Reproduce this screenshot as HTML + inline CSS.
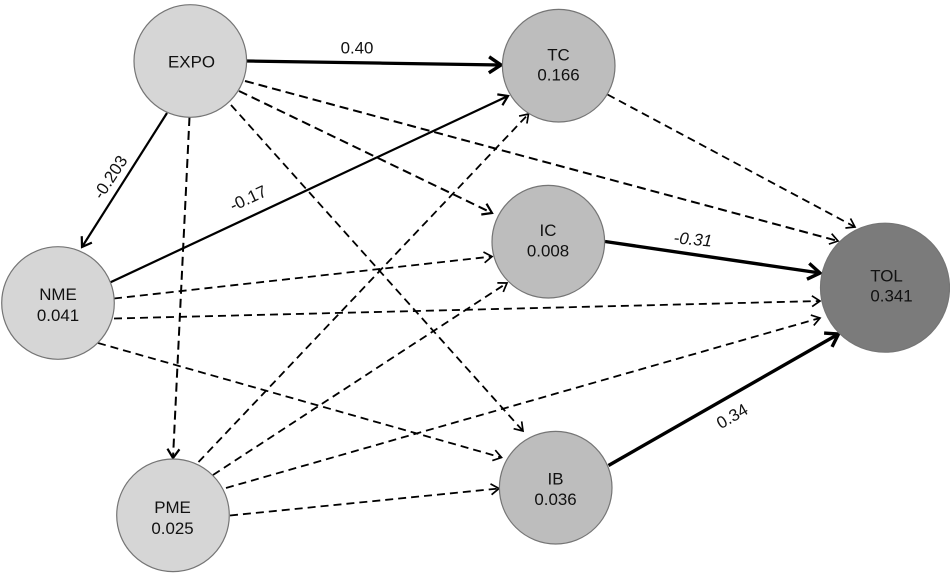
<!DOCTYPE html>
<html>
<head>
<meta charset="utf-8">
<style>
html,body{margin:0;padding:0;background:#fff;width:950px;height:575px;overflow:hidden}
svg{display:block;filter:blur(0.35px)}
text{font-family:"Liberation Sans",sans-serif;font-size:16.9px;fill:#111;text-anchor:middle}
circle{stroke:#757575;stroke-width:1.2}
.l{stroke:#000;fill:none}
.t{stroke-width:1.8;stroke-dasharray:8 5}
.m{stroke-width:2;stroke-dasharray:9 5}
</style>
</head>
<body>
<svg width="950" height="575" viewBox="0 0 950 575" xmlns="http://www.w3.org/2000/svg">
<defs>
<marker id="a" markerUnits="userSpaceOnUse" markerWidth="16" markerHeight="16" refX="12" refY="8" orient="auto">
<path d="M4 2.6L12 8L4 13.4" fill="none" stroke="#000" stroke-width="1.7"/>
</marker>
<marker id="b" markerUnits="userSpaceOnUse" markerWidth="18" markerHeight="18" refX="14" refY="9" orient="auto">
<path d="M5 3L14 9L5 15" fill="none" stroke="#000" stroke-width="2.2"/>
</marker>
<marker id="c" markerUnits="userSpaceOnUse" markerWidth="26" markerHeight="26" refX="21" refY="13" orient="auto">
<path d="M9 5L21 13L9 21" fill="none" stroke="#000" stroke-width="3.4"/>
</marker>
</defs>

<line class="l" x1="246.5" y1="61" x2="501" y2="65" stroke-width="3.2" marker-end="url(#c)"/>
<line class="l" x1="167" y1="113" x2="82" y2="247" stroke-width="2.2" marker-end="url(#b)"/>
<line class="l" x1="110" y1="282.5" x2="508" y2="96" stroke-width="2.2" marker-end="url(#b)"/>
<line class="l" x1="605" y1="241.5" x2="820" y2="273" stroke-width="3.4" marker-end="url(#c)"/>
<line class="l" x1="608.5" y1="465.5" x2="838.5" y2="334" stroke-width="3.4" marker-end="url(#c)"/>

<line class="l m" x1="189.5" y1="117" x2="173" y2="458" marker-end="url(#b)"/>
<line class="l m" x1="245" y1="81" x2="838" y2="241" marker-end="url(#a)"/>
<line class="l m" x1="239" y1="91" x2="492" y2="213" marker-end="url(#b)"/>
<line class="l t" x1="231" y1="105" x2="523" y2="431" marker-end="url(#a)"/>
<line class="l t" x1="607.5" y1="94.5" x2="855" y2="227" marker-end="url(#a)"/>
<line class="l t" x1="114" y1="298.5" x2="492" y2="256.5" marker-end="url(#a)"/>
<line class="l t" x1="114" y1="318.5" x2="820" y2="301" marker-end="url(#a)"/>
<line class="l t" x1="98" y1="343" x2="501.5" y2="457.5" marker-end="url(#a)"/>
<line class="l t" x1="198.5" y1="462" x2="528.5" y2="114" marker-end="url(#a)"/>
<line class="l t" x1="213" y1="475" x2="507" y2="283" marker-end="url(#a)"/>
<line class="l t" x1="226" y1="488" x2="820" y2="318" marker-end="url(#a)"/>
<line class="l t" x1="230" y1="515.5" x2="499" y2="488.5" marker-end="url(#a)"/>

<circle cx="190.3" cy="61" r="56.3" fill="#d6d6d6"/>
<circle cx="58" cy="303" r="56.3" fill="#d6d6d6"/>
<circle cx="173" cy="515.3" r="56.3" fill="#d6d6d6"/>
<circle cx="558.7" cy="65.7" r="56.3" fill="#bdbdbd"/>
<circle cx="548.3" cy="241.7" r="56.3" fill="#bdbdbd"/>
<circle cx="555.7" cy="487.7" r="56.3" fill="#bdbdbd"/>
<circle cx="885" cy="287.7" r="64.5" fill="#7b7b7b"/>

<text x="191.5" y="67.7">EXPO</text>
<text x="558.5" y="60.3">TC</text>
<text x="558.5" y="80.7">0.166</text>
<text x="548" y="236">IC</text>
<text x="548" y="256.7">0.008</text>
<text x="58" y="300">NME</text>
<text x="58" y="321">0.041</text>
<text x="172.5" y="513">PME</text>
<text x="172.5" y="534">0.025</text>
<text x="555.5" y="484.3">IB</text>
<text x="555.5" y="505">0.036</text>
<text x="886.5" y="281.7">TOL</text>
<text x="891.5" y="301.7">0.341</text>

<text x="357" y="53.5">0.40</text>
<text transform="translate(110 177) rotate(-57)" y="6">-0.203</text>
<text transform="translate(248 198) rotate(-25)" y="6">-0.17</text>
<text transform="translate(693 239) rotate(5)" y="6" font-style="italic">-0.31</text>
<text transform="translate(732 416) rotate(-30)" y="6">0.34</text>
</svg>
</body>
</html>
